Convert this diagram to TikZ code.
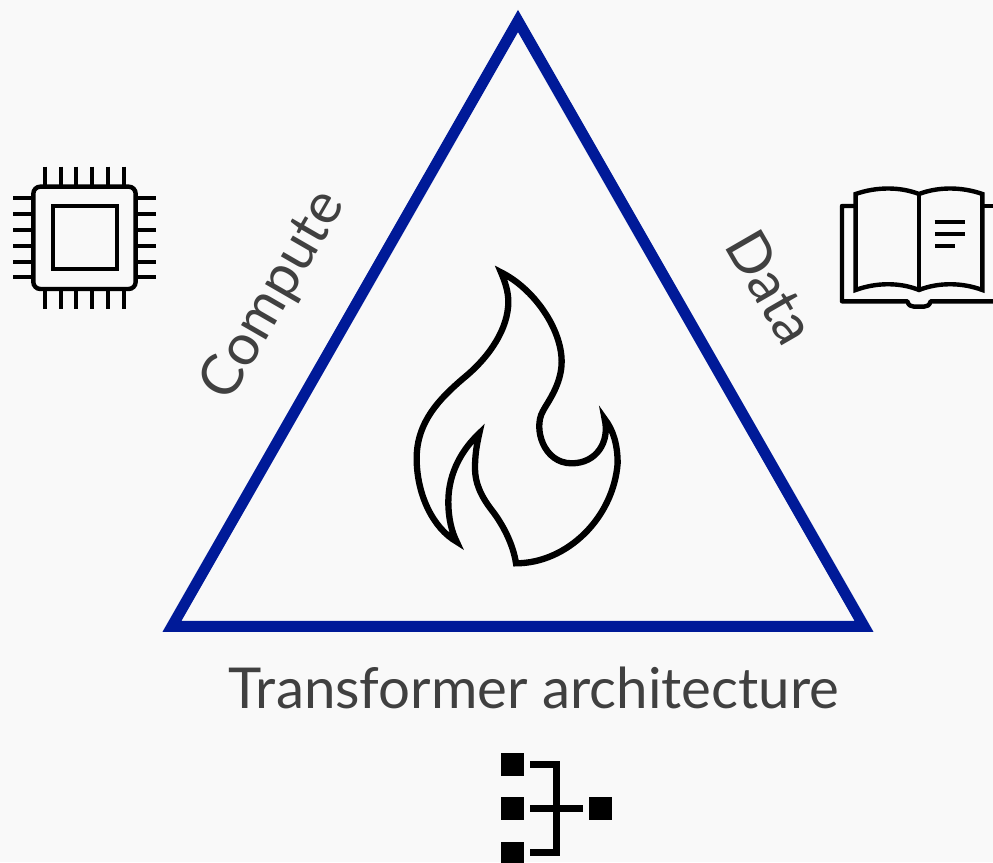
\documentclass[tikz,border=0pt]{standalone}
\usepackage{fontspec}
\setmainfont{Lato}
\definecolor{bg}{HTML}{F9F9F9}
\definecolor{tri}{HTML}{001A98}
\definecolor{txt}{HTML}{404040}
\tikzset{
  icon/.style={draw=black,line join=miter,fill=none},
  label/.style={text=txt,inner sep=0pt,font=\fontsize{57}{60}\selectfont},
  lbig/.style={text=txt,inner sep=0pt,font=\fontsize{56.4}{60}\selectfont},
  blk/.style={fill=black,draw=none}
}
\begin{document}
\begin{tikzpicture}[x=1pt,y=-1pt]
\fill[bg] (0,0) rectangle (993,862);
\useasboundingbox (0,0) rectangle (993,862);
% triangle
\draw[tri,line width=11pt,line join=miter,miter limit=10] (518,21) -- (864,626.3) -- (172,626.3) -- cycle;
% texts
\node[label,rotate=60] (compute) at (274,296) {Compute};
\node[label,rotate=-60] (data) at (771,287) {Data};
\node[lbig] (arch) at (534,688) {Transformer architecture};
% flame
\begin{scope}[shift={(400,255)},x=0.3333pt,y=-0.3333pt]
\draw[icon,line width=6.3pt,miter limit=12]
 (303,52) .. controls (400,100) and (485,220) .. (485,320)
 .. controls (485,390) and (440,445) .. (428,470)
 .. controls (400,520) and (430,625) .. (515,625)
 .. controls (590,625) and (630,560) .. (614,492)
 .. controls (640,525) and (653,570) .. (653,625)
 .. controls (640,790) and (500,925) .. (348,925)
 .. controls (340,870) and (310,810) .. (275,765)
 .. controls (240,720) and (225,680) .. (225,640)
 .. controls (225,600) and (230,570) .. (238,535)
 .. controls (190,580) and (145,650) .. (145,740)
 .. controls (145,790) and (155,830) .. (170,860)
 .. controls (100,820) and (50,720) .. (50,610)
 .. controls (50,500) and (120,430) .. (190,370)
 .. controls (270,305) and (325,220) .. (325,140)
 .. controls (325,110) and (315,80) .. (303,52) -- cycle;
\end{scope}
% chip
\begin{scope}[shift={(0,150)},x=0.3333pt,y=-0.3333pt]
\draw[icon,line width=4.4pt,rounded corners=7pt] (100,110) rectangle (407,417);
\draw[icon,line width=4pt] (158,168) rectangle (350,358);
\foreach \p in {134,182,229,277,324,372}{
  \draw[icon,line width=4pt] (\p,50) -- (\p,105);
  \draw[icon,line width=4pt] (\p,420) -- (\p,478);
}
\foreach \p in {145,192,240,287,335,382}{
  \draw[icon,line width=4pt] (40,\p) -- (95,\p);
  \draw[icon,line width=4pt] (412,\p) -- (467,\p);
}
\end{scope}
% book
\begin{scope}[shift={(830,170)},x=0.3333pt,y=-0.3333pt]
\draw[icon,line width=4.4pt]
 (77,72) .. controls (140,50) and (210,50) .. (267,72)
 .. controls (325,50) and (395,50) .. (457,72)
 -- (457,360)
 .. controls (395,337) and (325,337) .. (267,360)
 .. controls (210,337) and (140,337) .. (77,360) -- cycle;
\draw[icon,line width=4.4pt] (267,72) -- (267,360);
\draw[icon,line width=4.4pt,line join=round] (75,108) -- (36,108) -- (36,394) -- (232,394)
 .. controls (236,406) and (242,410) .. (252,410) -- (282,410)
 .. controls (292,410) and (298,406) .. (302,394) -- (489,394);
\draw[icon,line width=4.4pt] (460,108) -- (489,108);
\draw[icon,line width=4pt] (314,155) -- (404,155);
\draw[icon,line width=4pt] (315,191) -- (405,191);
\draw[icon,line width=4pt] (315,227) -- (375,227);
\end{scope}
% hierarchy
\begin{scope}[shift={(490,745)},x=0.3333pt,y=-0.3333pt]
\fill[blk] (33,24) rectangle (102,93);
\fill[blk] (33,156) rectangle (102,225);
\fill[blk] (33,291) rectangle (102,360);
\fill[blk] (297,156) rectangle (366,225);
\draw[icon,line width=6.4pt] (121,58) -- (200,58) -- (200,323) -- (121,323);
\draw[icon,line width=6.4pt] (121,191) -- (278,191);
\end{scope}
\end{tikzpicture}
\end{document}
